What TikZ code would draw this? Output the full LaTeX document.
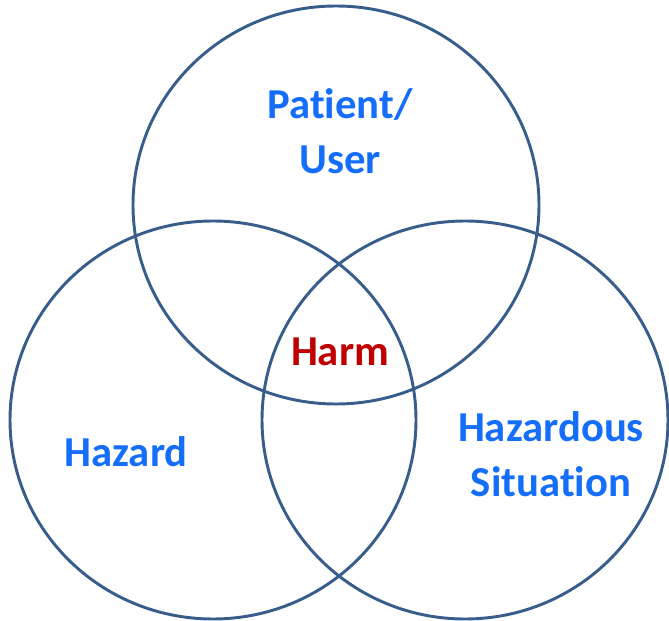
\documentclass[tikz,border=0pt]{standalone}
\usepackage{fontspec}
\setmainfont{Carlito}[Ligatures=NoCommon]
\usetikzlibrary{shapes.geometric}

\definecolor{ringblue}{RGB}{56,93,138}
\definecolor{textblue}{RGB}{20,110,250}
\definecolor{harmred}{RGB}{192,0,0}

\begin{document}
\begin{tikzpicture}[x=0.75pt, y=-0.75pt]
        % Define node styles
        \tikzstyle{ring} = [draw=ringblue, line width=2.2pt, ellipse, minimum width=304.5pt, minimum height=298.5pt, inner sep=0pt]
        \tikzstyle{label} = [text=textblue, font=\fontsize{32}{41}\selectfont\bfseries, align=center, inner sep=0pt]

        \useasboundingbox (0,0) rectangle (669,621);

        % Draw the circles
        \node[ring] (user) at (336,205) {};
        \node[ring] (hazard) at (213,420) {};
        \node[ring] (situation) at (465,420) {};

        % Draw the labels
        \node[label] (userText) at (340,131) {Patient/\\User};
        \node[label] (hazardText) at (126,452) {Hazard};
        \node[label] (situationText) at (551,454) {Hazardous\\Situation};
        \node[label, text=harmred] (harmText) at (340,352) {Harm};
    \end{tikzpicture}
\end{document}
